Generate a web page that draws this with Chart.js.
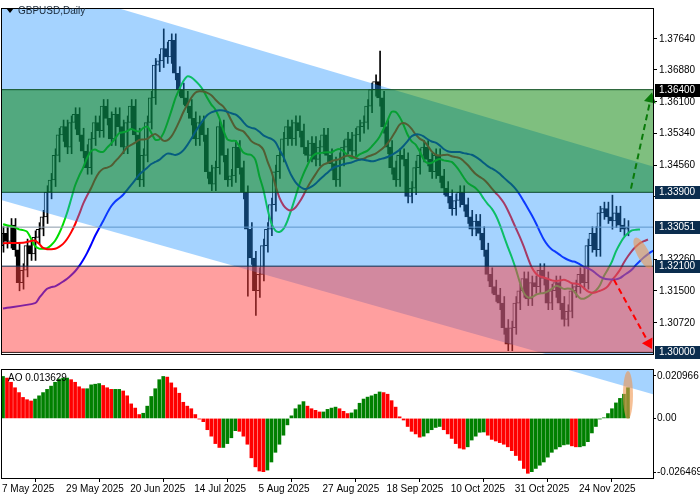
<!DOCTYPE html>
<html>
<head>
<meta charset="utf-8">
<script src="https://cdn.jsdelivr.net/npm/chart.js@4"></script>
<style>
  body{margin:0;background:#fff;width:700px;height:500px;overflow:hidden;font-family:"Liberation Sans",sans-serif}
  #main{position:absolute;left:0;top:0;width:700px;height:362px}
  #ao{position:absolute;left:0;top:362px;width:700px;height:138px}
</style>
</head>
<body>
<div id="main"><canvas id="mainChart"></canvas></div>
<div id="ao"><canvas id="aoChart"></canvas></div>
<script>
// ---- Data ----
const closes = [
  1.3290,1.3270,1.3310,1.3250,1.3170,1.3200,1.3260,1.3240,1.3280,1.3300,
  1.3330,1.3390,1.3420,1.3480,1.3530,1.3550,1.3500,1.3560,1.3580,1.3530,
  1.3490,1.3450,1.3520,1.3560,1.3540,1.3600,1.3570,1.3520,1.3580,1.3550,
  1.3500,1.3560,1.3600,1.3530,1.3420,1.3480,1.3560,1.3620,1.3700,1.3710,
  1.3740,1.3720,1.3760,1.3680,1.3640,1.3620,1.3600,1.3570,1.3520,1.3560,
  1.3530,1.3440,1.3410,1.3450,1.3550,1.3480,1.3420,1.3430,1.3500,1.3450,
  1.3390,1.3300,1.3230,1.3150,1.3190,1.3260,1.3300,1.3360,1.3440,1.3480,
  1.3520,1.3550,1.3520,1.3560,1.3540,1.3500,1.3480,1.3510,1.3470,1.3500,
  1.3530,1.3480,1.3460,1.3420,1.3470,1.3500,1.3520,1.3490,1.3530,1.3550,
  1.3560,1.3600,1.3640,1.3660,1.3620,1.3550,1.3500,1.3450,1.3420,1.3480,
  1.3470,1.3380,1.3400,1.3450,1.3480,1.3500,1.3470,1.3440,1.3480,1.3430,
  1.3400,1.3380,1.3350,1.3370,1.3390,1.3360,1.3330,1.3300,1.3320,1.3290,
  1.3250,1.3190,1.3160,1.3140,1.3120,1.3060,1.3020,1.3060,1.3120,1.3150,
  1.3180,1.3130,1.3170,1.3160,1.3200,1.3180,1.3120,1.3150,1.3170,1.3120,
  1.3080,1.3100,1.3150,1.3160,1.3190,1.3170,1.3260,1.3290,1.3250,1.3340,
  1.3350,1.3330,1.3320,1.3340,1.3310,1.3300,1.3305
];
const firstOpen = 1.3260;
const defaultWick = 0.0016;
// [bar, high, low] for the long shadows
const spikes = [[4,1.3250,1.3150],[40,1.3788,1.3700],[61,1.3320,1.3137],[63,1.3200,1.3090],[94,1.3734,1.3600],[126,1.3080,1.3008],[152,1.3383,1.3300]];

const aoValues = [
  130,125,112,95,80,65,58,54,60,70,
  80,90,100,112,122,125,125,120,112,98,
  92,92,104,106,108,102,95,90,90,90,
  85,70,45,32,12,16,38,68,92,120,
  130,128,110,95,78,50,38,30,12,-2,
  -10,-35,-55,-78,-90,-90,-78,-60,-38,-40,
  -55,-80,-122,-150,-163,-165,-160,-135,-105,-80,
  -52,-20,8,30,42,52,38,30,25,20,
  20,28,32,35,30,22,
  15,17,27,47,60,66,70,75,82,80,75,55,35,5,-5,
  -25,-40,-48,-58,-55,-45,-35,-28,-25,
  -35,-48,-62,-78,-92,-95,-88,-67,-55,-43,
  -42,-52,-65,-70,-75,-80,-88,-100,-115,-130,-155,-170,
  -165,-155,-145,-135,-120,-105,-95,-88,-82,-80,
  -85,-88,-88,-85,-72,-45,-25,-2,2,15,30,48,62,75,95
].map(h => h/6300);

const dateLabels = ['7 May 2025','29 May 2025','20 Jun 2025','14 Jul 2025','5 Aug 2025','27 Aug 2025','18 Sep 2025','10 Oct 2025','31 Oct 2025','24 Nov 2025'];
const dateBars = [0,16,32,48,64,80,96,112,128,144];

const priceTicks = [1.37640,1.36880,1.36100,1.35340,1.34560,1.33800,1.32260,1.31500,1.30720];
const boxedLevels = [1.36400,1.33900,1.33051,1.32100,1.30000];
const boxedColors = ['#000000','#0b2d4e','#0b2d4e','#0b2d4e','#0b2d4e'];
const aoTicks = [0.020966,0,-0.026469];

const greenZone = [1.3640,1.3390];
const redZone = [1.3210,1.3000];
const lastPrice = 1.33051;
const chanX = [-0.5,162.25];
const chanUpper = [1.3923,1.3453];
const chanLower = [1.3371,1.2922];
const aoBandX = [140.3,162.25];
const aoBandY = [0.0243,0.0119];

// Alligator: [period, shift, seed, colour]
const alligator = [[13,8,1.3107,'#0000ff'],[8,5,1.3266,'#ff0000'],[5,3,1.3312,'#00dd00']];

const greenArrow = [[156.75,1.3399],[162,1.3633]];
const redArrow = [[152.5,1.3177],[162,1.3008]];

const X_MIN = -0.5, X_MAX = 162.25;
const FONT_CSS = '10px "Liberation Sans", sans-serif';
const FONT = {family:'"Liberation Sans", sans-serif', size:10};

// ---- Build candles ----
const opens = closes.map((c,i)=> i===0 ? firstOpen : closes[i-1]);
const highs = closes.map((c,i)=> Math.max(c,opens[i])+defaultWick);
const lows = closes.map((c,i)=> Math.min(c,opens[i])-defaultWick);
spikes.forEach(([i,h,l])=>{ highs[i]=Math.max(highs[i],h); lows[i]=Math.min(lows[i],l); });

const bodies = closes.map((c,i)=>({x:i, y:[opens[i],c]}));
const wicks = closes.map((c,i)=>({x:i, y:[lows[i],highs[i]]}));
const bodyFill = closes.map((c,i)=> c>=opens[i] ? '#ffffff' : '#000000');

function smmaLine(period, shift, seed){
  const pts = [{x:0, y:seed}];
  let v = seed;
  closes.forEach((c,i)=>{
    const med = (highs[i]+lows[i])/2;
    v = (v*(period-1)+med)/period;
    if(i+shift > 0) pts.push({x:i+shift, y:v});
  });
  return pts;
}

const hline = (y)=> chanX.map(x=>({x, y}));

// ---- Plugins ----
const frame = {
  id:'frame',
  afterDraw(chart){
    const {ctx, chartArea:a} = chart;
    ctx.save();
    ctx.strokeStyle='#000'; ctx.lineWidth=1;
    ctx.strokeRect(a.left+0.5, a.top+0.5, a.right-a.left, a.bottom-a.top);
    ctx.restore();
  }
};

function ellipse(ctx, cx, cy, rx, ry, rot){
  ctx.save();
  ctx.fillStyle='rgba(240,150,80,0.6)';
  ctx.beginPath(); ctx.ellipse(cx,cy,rx,ry,rot,0,Math.PI*2); ctx.fill();
  ctx.restore();
}

function arrow(ctx, x1,y1,x2,y2,color){
  ctx.save();
  ctx.strokeStyle=color; ctx.fillStyle=color; ctx.lineWidth=2; ctx.setLineDash([6,4]);
  const ang=Math.atan2(y2-y1,x2-x1);
  const hx=x2-10*Math.cos(ang), hy=y2-10*Math.sin(ang);
  ctx.beginPath(); ctx.moveTo(x1,y1); ctx.lineTo(hx,hy); ctx.stroke();
  ctx.setLineDash([]);
  ctx.beginPath();
  ctx.moveTo(x2,y2);
  ctx.lineTo(hx+6*Math.sin(ang), hy-6*Math.cos(ang));
  ctx.lineTo(hx-6*Math.sin(ang), hy+6*Math.cos(ang));
  ctx.closePath(); ctx.fill();
  ctx.restore();
}

const mainDecor = {
  id:'mainDecor',
  afterDatasetsDraw(chart){
    const {ctx, scales:{x,y}} = chart;
    const P = p=>[x.getPixelForValue(p[0]), y.getPixelForValue(p[1])];
    ellipse(ctx, x.getPixelForValue(159.7), y.getPixelForValue(1.3242), 17, 6, 1.1);
    arrow(ctx, ...P(greenArrow[0]), ...P(greenArrow[1]), '#0a7a0a');
    arrow(ctx, ...P(redArrow[0]), ...P(redArrow[1]), '#ff0000');
  },
  afterDraw(chart){
    const {ctx, scales:{y}, chartArea:a} = chart;
    ctx.save();
    ctx.font=FONT_CSS;
    ctx.textBaseline='middle';
    boxedLevels.forEach((v,i)=>{
      const py = Math.round(y.getPixelForValue(v));
      ctx.fillStyle=boxedColors[i];
      ctx.fillRect(a.right+2, py-6, 45, 13);
      ctx.fillStyle='#fff';
      ctx.fillText(v.toFixed(5), a.right+6, py+0.5);
    });
    ctx.fillStyle='#000';
    ctx.beginPath(); ctx.moveTo(6,8); ctx.lineTo(14,8); ctx.lineTo(10,13); ctx.closePath(); ctx.fill();
    ctx.fillStyle='#1a2a3a';
    ctx.fillText('GBPUSD,Daily', 18, 11);
    ctx.restore();
  }
};

const aoDecor = {
  id:'aoDecor',
  afterDatasetsDraw(chart){
    const {ctx, scales:{x,y}} = chart;
    const cx = x.getPixelForValue(156), cy = y.getPixelForValue(0.0115);
    ellipse(ctx, cx, cy, 5, 24, 0);
    ctx.save();
    ctx.font=FONT_CSS;
    ctx.fillStyle='#000'; ctx.textBaseline='middle';
    ctx.fillText('AO 0.013629', 8, chart.chartArea.top+9);
    ctx.restore();
  },
  afterDraw(chart){
    const {ctx, scales:{x}, chartArea:a} = chart;
    ctx.save();
    ctx.font=FONT_CSS;
    ctx.fillStyle='#000'; ctx.textBaseline='top'; ctx.textAlign='left';
    dateBars.forEach((b,i)=> ctx.fillText(dateLabels[i], x.getPixelForValue(b)-1, a.bottom+6));
    ctx.restore();
  }
};

// ---- Main chart ----
const mainDatasets = [
  {type:'line', data:hline(greenZone[0]), borderColor:'#0b4d1e', borderWidth:1, pointRadius:0, fill:'+1', backgroundColor:'rgba(0,128,0,0.5)', order:1},
  {type:'line', data:hline(greenZone[1]), borderColor:'#0b3d2e', borderWidth:1, pointRadius:0, fill:false, order:1},
  {type:'line', data:hline(redZone[0]), borderColor:'#0b2d4e', borderWidth:1, pointRadius:0, fill:'+1', backgroundColor:'rgba(255,64,64,0.5)', order:1},
  {type:'line', data:hline(redZone[1]), borderColor:'#000', borderWidth:1, pointRadius:0, fill:false, order:1},
  {type:'line', data:chanX.map((x,i)=>({x, y:chanUpper[i]})), borderWidth:0, pointRadius:0, fill:'+1', backgroundColor:'rgba(30,144,255,0.4)', order:2},
  {type:'line', data:chanX.map((x,i)=>({x, y:chanLower[i]})), borderWidth:0, pointRadius:0, fill:false, order:2},
  {type:'line', data:hline(lastPrice), borderColor:'#8a9aa8', borderWidth:1, pointRadius:0, fill:false, order:3},
  ...alligator.map(([p,s,seed,c])=>({type:'line', data:smmaLine(p,s,seed), borderColor:c, borderWidth:2, pointRadius:0, fill:false, tension:0.3, order:4})),
  {type:'bar', data:bodies, backgroundColor:bodyFill, borderColor:'#000', borderWidth:1, borderSkipped:false, barThickness:3, order:5},
  {type:'bar', data:wicks, backgroundColor:'#000', borderWidth:0, barThickness:1, order:6}
];

new Chart(document.getElementById('mainChart'), {
  type:'bar',
  data:{datasets:mainDatasets},
  options:{
    responsive:true, maintainAspectRatio:false, animation:false,
    layout:{padding:{left:1, top:2, right:0, bottom:0}},
    plugins:{legend:{display:false}, tooltip:{enabled:false}},
    scales:{
      x:{type:'linear', min:X_MIN, max:X_MAX, display:false, offset:false},
      y:{
        position:'right', min:1.2996, max:1.3839,
        afterBuildTicks:s=>{ s.ticks = priceTicks.map(v=>({value:v})); },
        afterFit:s=>{ s.width = 47; },
        grid:{drawOnChartArea:false, tickLength:4, color:'#000'},
        border:{display:false},
        ticks:{font:FONT, color:'#000', padding:2, callback:v=>v.toFixed(5)}
      }
    }
  },
  plugins:[frame, mainDecor]
});

// ---- AO chart ----
const aoColors = aoValues.map((v,i)=> i>0 && v<aoValues[i-1] ? '#ff0000' : '#008000');

new Chart(document.getElementById('aoChart'), {
  type:'bar',
  data:{datasets:[
    {type:'line', data:aoBandX.map((x,i)=>({x, y:aoBandY[i]})), borderWidth:0, pointRadius:0, fill:'end', backgroundColor:'rgba(30,144,255,0.4)', order:1},
    {type:'bar', data:aoValues.map((v,i)=>({x:i, y:v})), backgroundColor:aoColors, barThickness:3, order:2}
  ]},
  options:{
    responsive:true, maintainAspectRatio:false, animation:false,
    layout:{padding:{left:1, top:3, right:0, bottom:0}},
    plugins:{legend:{display:false}, tooltip:{enabled:false}},
    scales:{
      x:{
        type:'linear', min:X_MIN, max:X_MAX, offset:false,
        afterBuildTicks:s=>{ s.ticks = dateBars.map(v=>({value:v})); },
        afterFit:s=>{ s.height = 22; },
        grid:{drawOnChartArea:false, tickLength:4, color:'#000'},
        border:{display:false},
        ticks:{display:false}
      },
      y:{
        position:'right', min:-0.0293, max:0.0243,
        afterBuildTicks:s=>{ s.ticks = aoTicks.map(v=>({value:v})); },
        afterFit:s=>{ s.width = 47; },
        grid:{drawOnChartArea:false, tickLength:3, color:'#000'},
        border:{display:false},
        ticks:{font:FONT, color:'#000', padding:1, callback:v=> v===0 ? '0.00' : v.toFixed(6)}
      }
    }
  },
  plugins:[frame, aoDecor]
});
</script>
</body>
</html>
